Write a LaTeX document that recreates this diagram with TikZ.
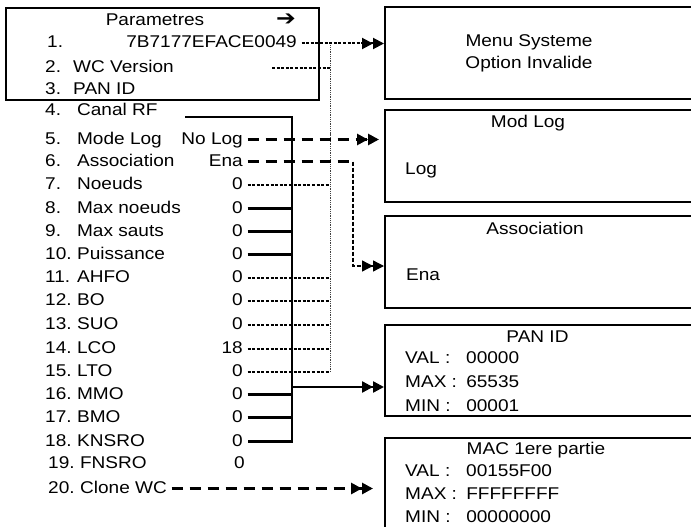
\documentclass[tikz,border=0pt]{standalone}
\usepackage{fontspec}
\setmainfont{Liberation Sans}
\newfontfamily\symfont{DejaVu Sans}
\usepackage{tikz}
\usetikzlibrary{arrows.meta, positioning, calc}
\newcommand{\nb}[2][28.5pt]{\makebox[#1][l]{#2}}
\tikzset{
	fnt/.style     ={font=\fontsize{17}{22}\selectfont, xscale=1.12, inner xsep=4pt, inner ysep=2pt},
	txt/.style     ={fnt, text height=12pt, text depth=3pt},
	lbl/.style     ={txt, anchor=west},
	val/.style     ={txt, anchor=east},
	boxf/.style    ={rectangle, draw=black, line width=2.4pt, anchor=north west, inner sep=0pt},
	scr/.style     ={boxf, minimum width=330pt},
	wire/.style    ={line width=2.4pt},
	dotw/.style    ={line width=2pt, dash pattern=on 3pt off 1.6pt},
	dotbus/.style  ={line width=1pt, dash pattern=on 1pt off 0.8pt, black!75},
	dashw/.style   ={line width=3pt, dash pattern=on 11pt off 7pt},
	dashthin/.style={line width=1.3pt, dash pattern=on 4pt off 2pt},
	dbl/.style     ={-{Triangle[length=11pt,width=11pt]Triangle[length=11pt,width=11pt]}},
}

\begin{document}
\begin{tikzpicture}[x=1pt, y=-1pt]
	\useasboundingbox (0,0) rectangle (691,527);
	\clip (0,0) rectangle (691,527);
	% parameter list
	\node[boxf, minimum width=313pt, minimum height=92pt] (param) at (5,7) {};
	\node[txt] (ttl) at (155,21.5) {Parametres};
	\node[txt, font=\symfont\bfseries\fontsize{21}{21}\selectfont] (go) at (286,21) {➔};
	\node[lbl] (r1)  at (42.5,43.5)  {\nb[25pt]{1.}};      \node[val] (v1)  at (301.5,43.5) {7B7177EFACE0049};
	\node[lbl] (r2)  at (40.5,68)    {\nb[25pt]{2.}WC Version};
	\node[lbl] (r3)  at (40.5,90.5)  {\nb[25pt]{3.}PAN ID};
	\node[lbl] (r4)  at (40.5,110.5) {\nb{4.}Canal RF};
	\node[lbl] (r5)  at (40.5,139.5) {\nb{5.}Mode Log};    \node[val] (v5)  at (247.5,139.5) {No Log};
	\node[lbl] (r6)  at (40.5,161.5) {\nb{6.}Association}; \node[val] (v6)  at (247.5,161.5) {Ena};
	\node[lbl] (r7)  at (40.5,184.5) {\nb{7.}Noeuds};      \node[val] (v7)  at (247.5,184.5) {0};
	\node[lbl] (r8)  at (40.5,208.5) {\nb{8.}Max noeuds};  \node[val] (v8)  at (247.5,208.5) {0};
	\node[lbl] (r9)  at (40.5,231.5) {\nb{9.}Max sauts};   \node[val] (v9)  at (247.5,231.5) {0};
	\node[lbl] (r10) at (40.5,254.5) {\nb{10.}Puissance};  \node[val] (v10) at (247.5,254.5) {0};
	\node[lbl] (r11) at (40.5,277.5) {\nb{11.}AHFO};       \node[val] (v11) at (247.5,277.5) {0};
	\node[lbl] (r12) at (40.5,300.5) {\nb{12.}BO};         \node[val] (v12) at (247.5,300.5) {0};
	\node[lbl] (r13) at (40.5,324.5) {\nb{13.}SUO};        \node[val] (v13) at (247.5,324.5) {0};
	\node[lbl] (r14) at (40.5,348.5) {\nb{14.}LCO};        \node[val] (v14) at (247.5,348.5) {18};
	\node[lbl] (r15) at (40.5,371.5) {\nb{15.}LTO};        \node[val] (v15) at (247.5,371.5) {0};
	\node[lbl] (r16) at (40.5,394.5) {\nb{16.}MMO};        \node[val] (v16) at (247.5,394.5) {0};
	\node[lbl] (r17) at (40.5,417.5) {\nb{17.}BMO};        \node[val] (v17) at (247.5,417.5) {0};
	\node[lbl] (r18) at (40.5,441.5) {\nb{18.}KNSRO};      \node[val] (v18) at (247.5,441.5) {0};
	\node[lbl] (r19) at (43.5,463.5) {\nb{19.}FNSRO};      \node[val] (v19) at (249.5,463.5) {0};
	\node[lbl] (r20) at (43.5,488.5) {\nb{20.}Clone WC};
	% screens
	\node[scr, minimum height=92pt]  (menu)   at (384,6)   {};
	\node[scr, minimum height=92pt]  (modlog) at (384,109) {};
	\node[scr, minimum height=92pt]  (assoc)  at (384,215) {};
	\node[scr, minimum height=91pt]  (pan)    at (384,324) {};
	\node[scr, minimum height=130pt] (mac)    at (384,437) {};
	\node[fnt, align=center] (menuT) at (529,53.8) {Menu Systeme\\Option Invalide};
	\node[txt] (modT) at (528,122.5) {Mod Log};
	\node[lbl] (modV) at (400.5,169.5) {Log};
	\node[txt] (ascT) at (535,229.5) {Association};
	\node[lbl] (ascV) at (401.5,275.5) {Ena};
	\node[txt] (panT) at (537.5,337.5) {PAN ID};
	\node[fnt, align=left, anchor=west, font=\fontsize{17}{24}\selectfont] (panV) at (400.5,382)
		{\nb[54.5pt]{VAL :}00000\\\nb[54.5pt]{MAX :}65535\\\nb[54.5pt]{MIN :}00001};
	\node[txt] (macT) at (536,449.5) {MAC 1ere partie};
	\node[fnt, align=left, anchor=west, font=\fontsize{17}{23}\selectfont] (macV) at (400.5,494)
		{\nb[54.5pt]{VAL :}00155F00\\\nb[54.5pt]{MAX :}FFFFFFFF\\\nb[54.5pt]{MIN :}00000000};
	% solid bus
	\coordinate (c4) at (185,117);
	\coordinate (bus) at (292,117);
	\coordinate (pb) at (292,387);
	\draw[wire] (c4) -- (bus) |- (v18.east);
	\draw[wire] (v8.east) -- (v8.east -| bus); \draw[wire] (v9.east) -- (v9.east -| bus);
	\draw[wire] (v10.east) -- (v10.east -| bus);
	\draw[wire] (v16.east) -- (v16.east -| bus); \draw[wire] (v17.east) -- (v17.east -| bus);
	\draw[wire, dbl] (pb) -- (pb -| pan.west);
	% dotted bus
	\coordinate (dbus) at (330,43.5);
	\coordinate (c2) at (272,68);
	\draw[dotbus] (dbus) -- (dbus |- v15.east);
	\draw[dotw, dbl] (v1.east) -- (v1.east -| menu.west);
	\draw[dotw] (c2) -- (c2 -| dbus);
	\draw[dotw] (v7.east) -- (v7.east -| dbus);
	\draw[dotw] (v11.east) -- (v11.east -| dbus); \draw[dotw] (v12.east) -- (v12.east -| dbus);
	\draw[dotw] (v13.east) -- (v13.east -| dbus); \draw[dotw] (v14.east) -- (v14.east -| dbus);
	\draw[dotw] (v15.east) -- (v15.east -| dbus);
	% dashed links
	\coordinate (ae) at (353,266);
	\draw[dashw, dbl] (v5.east) -- ([xshift=-5pt]v5.east -| modlog.west);
	\draw[dashw] (v6.east) -- (v6.east -| ae);
	\draw[dashthin, dbl] (v6.east -| ae) |- (ae -| assoc.west);
	\draw[dashw, dbl] (r20.east) -- ([xshift=-11pt]r20.east -| mac.west);
\end{tikzpicture}
\end{document}
